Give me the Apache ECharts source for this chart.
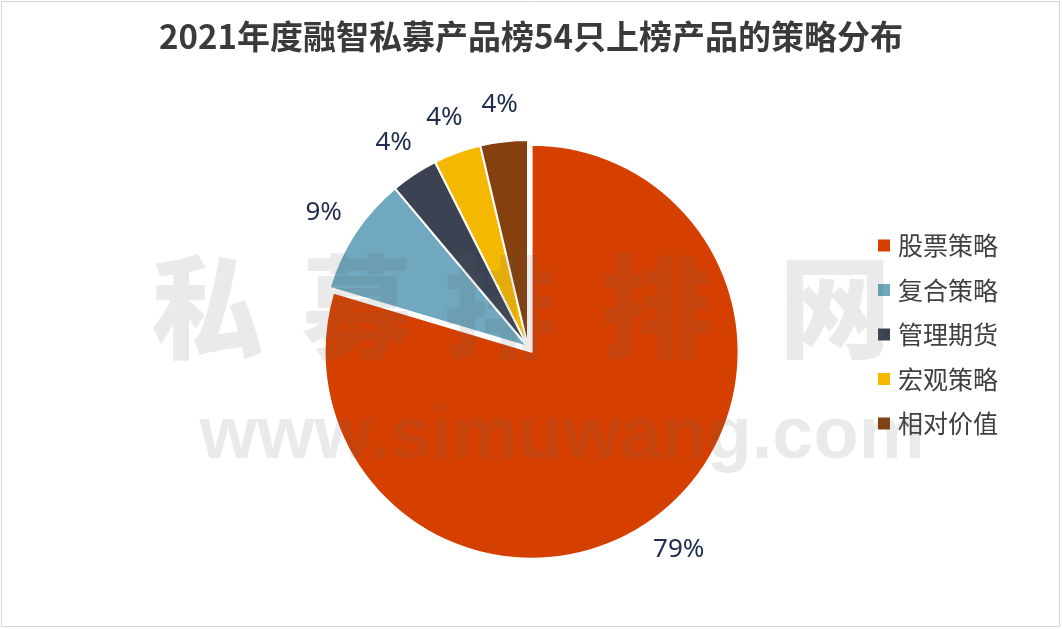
<!DOCTYPE html>
<html>
<head>
<meta charset="utf-8">
<script src="https://cdn.jsdelivr.net/npm/echarts@6/dist/echarts.min.js"></script>
<style>html,body{margin:0;padding:0;background:#fff;}#c{width:1062px;height:629px;}</style>
</head>
<body>
<div id="c"></div>
<script>
const titleText = '2021年度融智私募产品榜54只上榜产品的策略分布';
const categories = ['股票策略', '复合策略', '管理期货', '宏观策略', '相对价值'];
const counts = [43, 5, 2, 2, 2];
const colors = ['#D54000', '#6FA8BF', '#3B4353', '#F5B800', '#84400F'];
const watermarkChars = ['私', '募', '排', '排', '网'];
const watermarkUrl = 'www.simuwang.com';

const chart = echarts.init(document.getElementById('c'));
const FONT = '"Noto Sans CJK SC", "Noto Sans", sans-serif';

const mainData = categories.map((n, i) => ({
  name: n, value: counts[i], selected: i === 0,
  itemStyle: { color: colors[i] }
}));
const labelData = counts.map((v, i) => ({
  value: v, selected: i === 0,
  itemStyle: { color: 'rgba(0,0,0,0)' }
}));

const wmX = [207, 357, 500, 657, 835];
const graphics = [
  { type: 'rect', silent: true, z: 0, shape: { x: 1.5, y: 1.5, width: 1058, height: 625 },
    style: { fill: 'none', stroke: '#d6d6d6', lineWidth: 1 } }
];
watermarkChars.forEach((ch, i) => {
  graphics.push({
    type: 'text', silent: true, z: 100, x: wmX[i], y: 307,
    style: { text: ch, font: '900 112px "Noto Sans CJK SC", sans-serif',
      fill: 'rgba(90,90,90,0.13)', align: 'center', verticalAlign: 'middle' }
  });
});
graphics.push({
  type: 'text', silent: true, z: 100, x: 562, y: 438,
  style: { text: watermarkUrl, font: 'bold 74px "Liberation Sans", Arial, sans-serif',
    fill: 'rgba(90,90,90,0.13)', align: 'center', verticalAlign: 'middle' }
});

chart.setOption({
  animation: false,
  backgroundColor: '#ffffff',
  title: {
    text: titleText, left: 'center', top: 15,
    textStyle: { fontFamily: FONT, fontSize: 33, fontWeight: 'bold', color: '#3a3a3a' }
  },
  legend: {
    orient: 'vertical', left: 871, top: 228,
    itemWidth: 14, itemHeight: 14, itemGap: 19.5, icon: 'rect',
    data: categories.map((n, i) => ({ name: n, itemStyle: { color: colors[i] } })),
    textStyle: { fontFamily: FONT, fontSize: 25, lineHeight: 25, color: '#404040', padding: [0, 0, 0, 2] },
    selectedMode: false
  },
  graphic: graphics,
  series: [
    {
      type: 'pie', center: [528, 347], radius: [0, 207], startAngle: 90, clockwise: true,
      selectedMode: 'single', selectedOffset: 6, silent: true,
      itemStyle: { borderColor: '#ffffff', borderWidth: 2 },
      label: { show: false }, labelLine: { show: false },
      emphasis: { disabled: true },
      data: mainData
    },
    {
      type: 'pie', center: [528, 347], radius: [207, 276], startAngle: 90, clockwise: true,
      selectedMode: 'single', selectedOffset: 8, silent: true, percentPrecision: 0,
      itemStyle: { borderWidth: 0 },
      label: { show: true, position: 'inside', formatter: '{d}%',
        fontFamily: '"Noto Sans", "Open Sans", sans-serif', fontSize: 26, color: '#1F2D4E' },
      labelLine: { show: false },
      emphasis: { disabled: true },
      data: labelData
    }
  ]
});
</script>
</body>
</html>
